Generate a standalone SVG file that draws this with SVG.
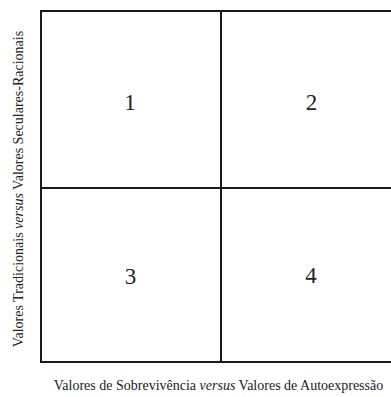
<svg xmlns="http://www.w3.org/2000/svg" width="391" height="397" viewBox="0 0 391 397">
<style>
.ln{stroke:#1a1a1a;stroke-width:2;fill:none}
.num{font-family:"Liberation Serif","Times New Roman",serif;font-size:23px;fill:#222;text-anchor:middle}
.lbl{font-family:"Liberation Serif","Times New Roman",serif;font-size:14px;fill:#222;text-anchor:middle}
</style>
<rect width="391" height="397" fill="#fff"/>
<g id="grid">
<rect class="ln" x="41" y="11" width="360" height="351"/>
<line class="ln" x1="221" y1="11" x2="221" y2="362"/>
<line class="ln" x1="41" y1="188" x2="401" y2="188"/>
</g>
<g id="q1"><text class="num" x="130" y="110">1</text></g>
<g id="q2"><text class="num" x="311.5" y="110">2</text></g>
<g id="q3"><text class="num" x="130.5" y="284">3</text></g>
<g id="q4"><text class="num" x="311" y="283">4</text></g>
<text class="lbl" x="218.5" y="390">Valores de Sobrevivência <tspan font-style="italic">versus</tspan> Valores de Autoexpressão</text>
<text class="lbl" transform="translate(22.5,189) rotate(-90)" x="0" y="0">Valores Tradicionais <tspan font-style="italic">versus</tspan> Valores Seculares-Racionais</text>
</svg>
